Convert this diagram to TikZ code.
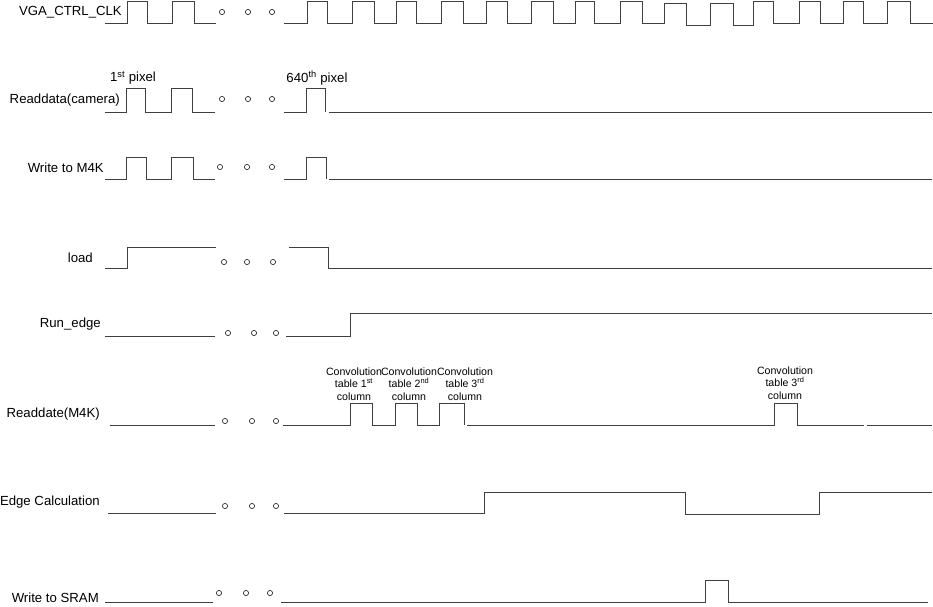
\documentclass[tikz,border=0pt]{standalone}
\usepackage{fontspec}
\setmainfont{Liberation Sans}
\begin{document}
\begin{tikzpicture}[x=1pt,y=-1pt,
  wave/.style={draw=black!75,line width=0.85pt,line join=miter},
  gapdot/.style={draw=black!80,line width=0.7pt,circle,inner sep=0pt,minimum size=5.2pt},
  siglabel/.style={anchor=east,inner sep=0pt,font=\fontsize{13.2}{15}\selectfont},
  notelabel/.style={inner sep=0pt,font=\fontsize{13.2}{15}\selectfont},
  convlabel/.style={inner sep=0pt,align=center,font=\fontsize{10.6}{12.5}\selectfont}]
\useasboundingbox (0,0) rectangle (933,606);
% labels
\node[siglabel] (l1) at (122,12) {VGA\_CTRL\_CLK};
\node[siglabel] (l2) at (120,100) {Readdata(camera)};
\node[siglabel] (l3) at (104,168) {Write to M4K};
\node[siglabel] (l4) at (93,258) {load};
\node[siglabel] (l5) at (101,324) {Run\_edge};
\node[siglabel] (l6) at (100,414) {Readdate(M4K)};
\node[siglabel] (l7) at (100,502) {Edge Calculation};
\node[siglabel] (l8) at (99,598) {Write to SRAM};
\node[notelabel] (n1) at (133,78) {1\textsuperscript{st} pixel};
\node[notelabel] (n2) at (317,78) {640\textsuperscript{th} pixel};
\node[convlabel] (c1) at (354,384) {Convolution\\table 1\textsuperscript{st}\\column};
\node[convlabel] (c2) at (409,384) {Convolution\\table 2\textsuperscript{nd}\\column};
\node[convlabel] (c3) at (465,384) {Convolution\\table 3\textsuperscript{rd}\\column};
\node[convlabel] (c4) at (785,383) {Convolution\\table 3\textsuperscript{rd}\\column};
% dots
\foreach \nm/\x/\y in {a1/222/12,a2/248/12,a3/272/12,
  b1/222/99,b2/248/99,b3/272/99,
  d1/220/167,d2/247/167,d3/272/167,
  e1/224/262,e2/247/262,e3/273/262,
  f1/228/333,f2/254/333,f3/276/333,
  g1/225/421,g2/252/421,g3/276/421,
  h1/225/506,h2/252/506,h3/276/506,
  k1/219/593,k2/246/593,k3/270/593}
  \node[gapdot] (\nm) at (\x,\y) {};
% row 1 clock
\draw[wave] (105,23)--(127,23)--(127,1)--(147,1)--(147,23)--(172,23)--(172,1)--(194,1)--(194,23)--(216,23);
\draw[wave] (284,23) -- (307,23) -- (307,1) -- (327,1) -- (327,23) -- (352,23) -- (352,1) -- (374,1) -- (374,23) -- (396,23) -- (396,1) -- (416,1) -- (416,23) -- (441,23) -- (441,1) -- (463,1) -- (463,23) -- (486,23) -- (486,1) -- (507,1) -- (507,23) -- (531,23) -- (531,1) -- (553,1) -- (553,23) -- (575,23) -- (575,1) -- (594,1) -- (594,23) -- (620,23) -- (620,1) -- (642,1) -- (642,23) -- (664,23) -- (664,3) -- (686,3) -- (686,25) -- (710,25) -- (710,3) -- (733,3) -- (733,25) -- (753,25) -- (753,1) -- (773,1) -- (773,23) -- (799,23) -- (799,1) -- (820,1) -- (820,23) -- (843,23) -- (843,1) -- (863,1) -- (863,23) -- (887,23) -- (887,1) -- (910,1) -- (910,23) -- (933,23);
% row 2
\draw[wave] (105,112)--(126,112)--(126,88)--(145,88)--(145,112)--(171,112)--(171,88)--(192,88)--(192,112)--(215,112);
\draw[wave] (284,112)--(306,112)--(306,88)--(325,88)--(325,112);
\draw[wave] (329,112)--(932,112);
% row 3
\draw[wave] (105,179)--(126,179)--(126,157)--(146,157)--(146,179)--(171,179)--(171,157)--(193,157)--(193,179)--(215,179);
\draw[wave] (284,179)--(306,179)--(306,157)--(326,157)--(326,179);
\draw[wave] (329,179)--(932,179);
% row 4
\draw[wave] (105,268)--(127,268)--(127,247)--(216,247);
\draw[wave] (289,247)--(328,247)--(328,268)--(932,268);
% row 5
\draw[wave] (105,336)--(215,336);
\draw[wave] (286,336)--(350,336)--(350,313)--(932,313);
% row 6
\draw[wave] (110,425)--(215,425);
\draw[wave] (283,425)--(350,425)--(350,403)--(372,403)--(372,425)--(395,425)--(395,403)--(417,403)--(417,425)--(439,425)--(439,403)--(464,403)--(464,425);
\draw[wave] (467,425)--(774,425)--(774,403)--(797,403)--(797,425)--(864,425);
\draw[wave] (867,425)--(932,425);
% row 7
\draw[wave] (108,513)--(216,513);
\draw[wave] (284,513)--(484,513)--(484,492)--(685,492)--(685,514)--(819,514)--(819,492)--(932,492);
% row 8
\draw[wave] (105,602)--(213,602);
\draw[wave] (281,602)--(705,602)--(705,580)--(728,580)--(728,602)--(928,602);
\end{tikzpicture}
\end{document}
